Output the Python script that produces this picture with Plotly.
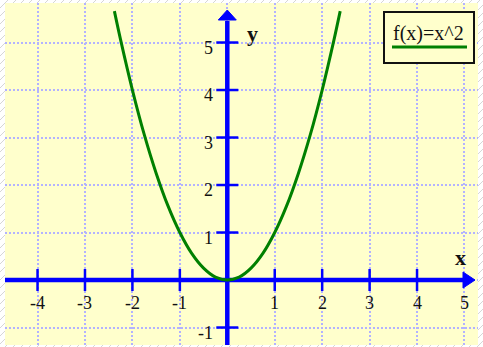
import plotly.graph_objects as go

# ---- figure geometry -------------------------------------------------------
W, H = 483, 347
M_L, M_R, M_T, M_B = 5, 5, 3, 2
X_RANGE = [-4.686, 5.285]
Y_RANGE = [-1.368, 5.832]

# ---- data ------------------------------------------------------------------
x_tick_vals = [-4, -3, -2, -1, 1, 2, 3, 4]
x_label_vals = [-4, -3, -2, -1, 1, 2, 3, 4, 5]
x_label_text = ["-4", "-3", "-2", "-1", "1", "2", "3", "4", "5"]
y_tick_vals = [-1, 1, 2, 3, 4, 5]
y_label_text = ["-1", "1", "2", "3", "4", "5"]

curve_x = [-2.38, -2.25, -2.0, -1.75, -1.5, -1.25, -1.0, -0.75, -0.5, -0.25, 0.0,
           0.25, 0.5, 0.75, 1.0, 1.25, 1.5, 1.75, 2.0, 2.25, 2.38]
curve_y = [5.66, 5.06, 4.0, 3.06, 2.25, 1.56, 1.0, 0.56, 0.25, 0.06, 0.0,
           0.06, 0.25, 0.56, 1.0, 1.56, 2.25, 3.06, 4.0, 5.06, 5.66]
legend_label = "f(x)=x^2"

# ---- colours / fonts -------------------------------------------------------
YELLOW = "#FFFFCC"
BLUE = "#0000FF"
GREEN = "#008000"
GRID = "#B2B2FF"
SERIF = "Liberation Serif, Times New Roman, serif"

PW = W - M_L - M_R
PH = H - M_T - M_B
sx = PW / (X_RANGE[1] - X_RANGE[0])   # pixels per x unit
sy = PH / (Y_RANGE[1] - Y_RANGE[0])   # pixels per y unit


def dx(px):
    return px / sx


def dy(px):
    return px / sy


def paper_x(px):
    return (px - M_L) / PW


def paper_y(py):
    return (H - M_B - py) / PH


fig = go.Figure()

# parabola
fig.add_trace(go.Scatter(
    x=curve_x, y=curve_y, mode="lines",
    line=dict(color=GREEN, width=3, shape="spline", smoothing=0.8),
    hoverinfo="skip", showlegend=False,
))

shapes = []

# hatched frame around the chart
for p in range(-H, W + 8, 8):
    shapes.append(dict(
        type="line", xref="paper", yref="paper", layer="below",
        x0=paper_x(p), y0=paper_y(H), x1=paper_x(p + H), y1=paper_y(0),
        line=dict(color="#d6d6d6", width=1),
    ))
shapes.append(dict(
    type="rect", xref="paper", yref="paper", layer="below",
    x0=0, y0=0, x1=1, y1=1, fillcolor=YELLOW, line=dict(width=0),
))

# coordinate axes with arrow heads
x_tip = X_RANGE[1] - dx(3)
x_base = x_tip - dx(12)
y_tip = Y_RANGE[1] - dy(7)
y_base = y_tip - dy(10)

shapes.append(dict(type="line", xref="x", yref="y", layer="between",
                   x0=X_RANGE[0], y0=0, x1=x_base + dx(1), y1=0,
                   line=dict(color=BLUE, width=4.5)))
shapes.append(dict(type="line", xref="x", yref="y", layer="between",
                   x0=0, y0=Y_RANGE[0], x1=0, y1=y_base - dy(1),
                   line=dict(color=BLUE, width=4.5)))
shapes.append(dict(type="path", xref="x", yref="y", layer="between",
                   path=f"M {x_base},{dy(8)} L {x_tip},0 L {x_base},{-dy(8)} Z",
                   fillcolor=BLUE, line=dict(color=BLUE, width=1)))
shapes.append(dict(type="path", xref="x", yref="y", layer="between",
                   path=f"M {-dx(9)},{y_base} L 0,{y_tip} L {dx(9)},{y_base} Z",
                   fillcolor=BLUE, line=dict(color=BLUE, width=1)))

# tick marks
for v in x_tick_vals:
    shapes.append(dict(type="line", xref="x", yref="y", layer="between",
                       x0=v, y0=-dy(11), x1=v, y1=dy(11),
                       line=dict(color=BLUE, width=2.5)))
for v in y_tick_vals:
    shapes.append(dict(type="line", xref="x", yref="y", layer="between",
                       x0=-dx(11), y0=v, x1=dx(11), y1=v,
                       line=dict(color=BLUE, width=2.5)))

# legend box
shapes.append(dict(type="rect", xref="paper", yref="paper", layer="above",
                   x0=paper_x(384), x1=paper_x(474), y0=paper_y(63), y1=paper_y(12),
                   fillcolor=YELLOW, line=dict(color="#111111", width=2)))
shapes.append(dict(type="line", xref="paper", yref="paper", layer="above",
                   x0=paper_x(392), x1=paper_x(467), y0=paper_y(47), y1=paper_y(47),
                   line=dict(color=GREEN, width=3)))

annotations = []
tick_font = dict(family=SERIF, size=18, color="#111111")
for v, t in zip(x_label_vals, x_label_text):
    annotations.append(dict(x=v, y=0, xref="x", yref="y", text=t, showarrow=False,
                            xanchor="center", yanchor="middle", yshift=-23,
                            font=tick_font))
for v, t in zip(y_tick_vals, y_label_text):
    annotations.append(dict(x=0, y=v, xref="x", yref="y", text=t, showarrow=False,
                            xanchor="right", yanchor="middle", xshift=-12, yshift=-5,
                            font=tick_font))

axis_font = dict(family=SERIF, size=22, color="#111111")
annotations.append(dict(x=x_tip, y=0, xref="x", yref="y", text="<b>x</b>",
                        showarrow=False, xanchor="center", yanchor="middle",
                        xshift=-15, yshift=23, font=axis_font))
annotations.append(dict(x=0, y=y_tip, xref="x", yref="y", text="<b>y</b>",
                        showarrow=False, xanchor="center", yanchor="middle",
                        xshift=25, yshift=-23, font=axis_font))

annotations.append(dict(x=paper_x(428.5), y=paper_y(33), xref="paper", yref="paper",
                        text=legend_label, showarrow=False,
                        xanchor="center", yanchor="middle",
                        font=dict(family=SERIF, size=20, color="#111111")))

grid_axis = dict(showgrid=True, gridcolor=GRID, gridwidth=2, griddash="2px,2px",
                 dtick=1, tick0=0, showticklabels=False, ticks="",
                 zeroline=False, showline=False, fixedrange=True)

fig.update_layout(
    width=W, height=H,
    margin=dict(l=M_L, r=M_R, t=M_T, b=M_B, pad=0),
    paper_bgcolor="#ffffff", plot_bgcolor=YELLOW,
    xaxis=dict(range=X_RANGE, **grid_axis),
    yaxis=dict(range=Y_RANGE, **grid_axis),
    shapes=shapes, annotations=annotations,
    showlegend=False,
)

fig.write_html("out.html")
